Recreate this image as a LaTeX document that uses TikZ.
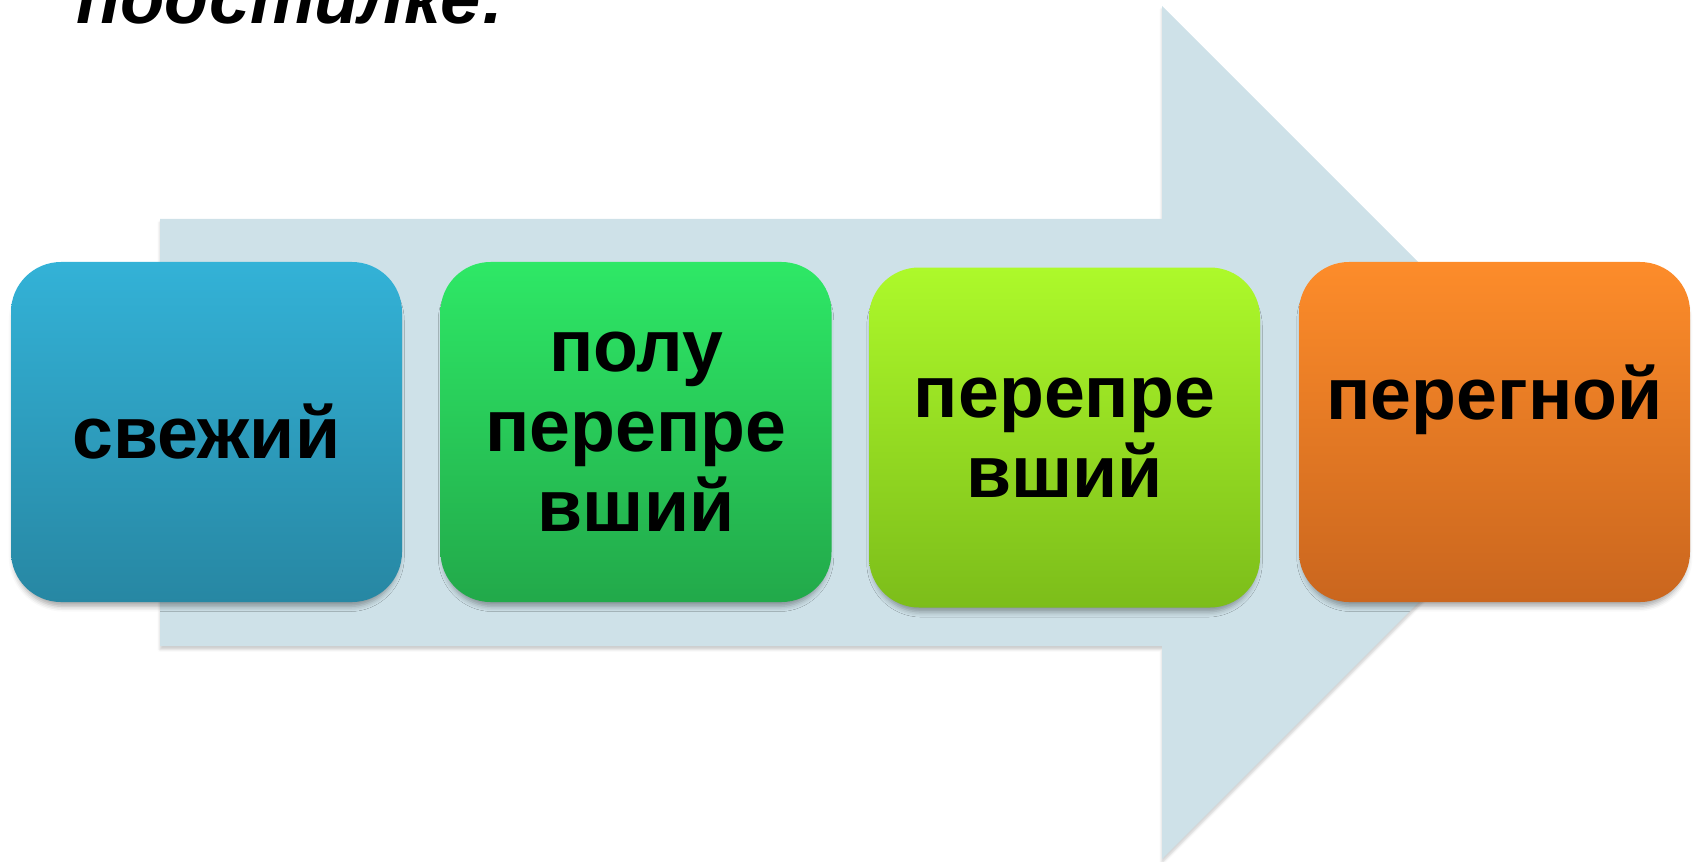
\documentclass[tikz,border=0pt]{standalone}
\usepackage{fontspec}
\setmainfont{Liberation Sans}
\usetikzlibrary{shadows.blur}

\definecolor{arrowfill}{HTML}{CEE1E8}
\definecolor{blueTop}{HTML}{33B2D7}
\definecolor{blueBot}{HTML}{2787A3}
\definecolor{greenTop}{HTML}{2EE866}
\definecolor{greenBot}{HTML}{22A94A}
\definecolor{limeTop}{HTML}{ADF92A}
\definecolor{limeBot}{HTML}{7CBD1A}
\definecolor{orangeTop}{HTML}{FD8C2A}
\definecolor{orangeBot}{HTML}{CA661E}

\tikzset{
  stage/.style={rounded corners=1cm, minimum width=7.82cm, minimum height=6.8cm,
    inner sep=0pt, align=center, text=black,
    font=\fontsize{41.8}{45.5}\selectfont\bfseries,
    blur shadow={shadow xshift=0pt, shadow yshift=-4pt, shadow scale=0.985,
      shadow blur radius=3pt, shadow opacity=35}}
}

\begin{document}
\begin{tikzpicture}
\useasboundingbox (0,0) rectangle (33.92,17.22);

% big arrow behind
\fill[arrowfill, blur shadow={shadow xshift=0pt, shadow yshift=-2pt, shadow blur radius=1.5pt, shadow opacity=20}]
  (3.2,4.3) -- (3.2,12.84) -- (23.24,12.84) -- (23.24,17.1)
  -- (31.77,8.57) -- (23.24,0.04) -- (23.24,4.3) -- cycle;

\node[anchor=base west, font=\fontsize{41.3}{45.5}\selectfont\bfseries\itshape] (title) at (1.4,16.74) {подстилке:};

\node[stage, top color=blueTop, bottom color=blueBot] (fresh) at (4.13,8.58) {свежий};
\node[stage, top color=greenTop, bottom color=greenBot] (half) at (12.72,8.58) {полу\\перепре\\вший};
\node[stage, top color=limeTop, bottom color=limeBot] (rotted) at (21.29,8.47) {перепре\\вший};
\node[stage, top color=orangeTop, bottom color=orangeBot] (humus) at (29.89,8.58) {перегной\\\mbox{}};

\end{tikzpicture}
\end{document}
